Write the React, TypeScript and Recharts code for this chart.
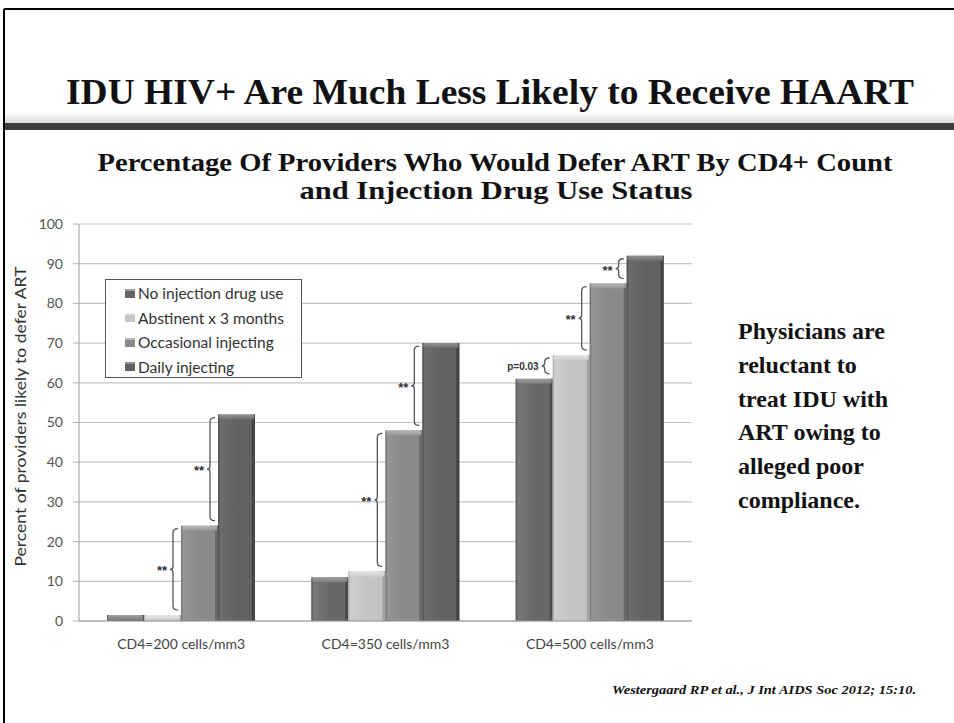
import React from 'react';
import { BarChart, Bar, XAxis, YAxis, CartesianGrid, Legend } from 'recharts';

const categories = ['CD4=200 cells/mm3', 'CD4=350 cells/mm3', 'CD4=500 cells/mm3'];
const seriesNames = ['No injection drug use', 'Abstinent x 3 months', 'Occasional injecting', 'Daily injecting'];
const noInjection = [1.5, 11, 61];
const abstinent = [1.5, 12.5, 67];
const occasional = [24, 48, 85];
const daily = [52, 70, 92];
const abstinentNotes = ['', '', 'p=0.03'];
const occasionalNotes = ['**', '**', '**'];
const dailyNotes = ['**', '**', '**'];
const yTicks = [0, 10, 20, 30, 40, 50, 60, 70, 80, 90, 100];
const edgeTicks = [0, 1, 2, 3];

const rows = categories.map((c, i) => ({
  category: c,
  v0: noInjection[i],
  v1: abstinent[i],
  v2: occasional[i],
  v3: daily[i],
  n0: '',
  n1: abstinentNotes[i],
  n2: occasionalNotes[i],
  n3: dailyNotes[i],
}));

const palette = [
  { base: '#686868', light: '#7a7a7a', dark: '#4a4a4a', top: '#a0a0a0' },
  { base: '#c4c4c4', light: '#cfcfcf', dark: '#a3a3a3', top: '#e4e4e4' },
  { base: '#8a8a8a', light: '#969696', dark: '#686868', top: '#b6b6b6' },
  { base: '#626262', light: '#6e6e6e', dark: '#434343', top: '#919191' },
];

const makeShape = (si: number) => (props: any) => {
  const { x, y, width, height, payload } = props;
  const c = palette[si];
  const val = payload['v' + si];
  const base = y + height;
  const ppu = val ? height / val : 0;
  const note = payload['n' + si];
  const topH = Math.min(5, height);
  let bracket = null;
  if (note) {
    const prev = payload['v' + (si - 1)];
    const yTop = base - val * ppu + 3;
    const yBot = base - prev * ppu - 5;
    const xr = x - 3;
    const xl = x - 8;
    const ym = (yTop + yBot) / 2;
    const d = `M${xr},${yTop} Q${xl},${yTop} ${xl},${yTop + 4} L${xl},${ym - 3} Q${xl},${ym} ${xl - 3},${ym} Q${xl},${ym} ${xl},${ym + 3} L${xl},${yBot - 4} Q${xl},${yBot} ${xr},${yBot}`;
    bracket = (
      <g>
        <path d={d} fill="none" stroke="#555" strokeWidth={1.3} />
        <text
          x={xl - 6}
          y={note === '**' ? ym + 6 : ym + 4}
          textAnchor="end"
          fontFamily="'Liberation Sans', Arial, sans-serif"
          fontWeight={700}
          fontSize={note === '**' ? 13 : 10}
          fill="#333"
        >
          {note}
        </text>
      </g>
    );
  }
  return (
    <g>
      <rect x={x} y={y} width={width} height={height} fill={`url(#grad${si})`} />
      <rect x={x + width - 3} y={y} width={3} height={height} fill={c.dark} />
      <rect x={x} y={y} width={1.5} height={height} fill={c.dark} opacity={0.6} />
      <rect x={x + 1} y={y} width={width - 2} height={topH} fill={`url(#top${si})`} rx={1.5} />
      {bracket}
    </g>
  );
};

const LegendBox = () => (
  <div
    style={{
      border: '1px solid #555',
      background: '#fff',
      width: 197,
      height: 99,
      boxSizing: 'border-box',
      padding: '1px 0 0 19px',
      fontFamily: "Lato, 'Open Sans', sans-serif",
      fontSize: 15.5,
      color: '#333',
    }}
  >
    {seriesNames.map((n, i) => (
      <div key={n} style={{ height: 24.5, display: 'flex', alignItems: 'center', whiteSpace: 'nowrap' }}>
        <span
          style={{
            display: 'inline-block',
            width: 10,
            height: 9,
            background: palette[i].base,
            borderTop: `2px solid ${palette[i].top}`,
            boxSizing: 'border-box',
            marginRight: 3,
          }}
        />
        {n}
      </div>
    ))}
  </div>
);

const YTitle = (props: any) => {
  const vb = props.viewBox || {};
  const cy = (vb.y || 224) + (vb.height || 397) / 2 - 6;
  return (
    <text
      x={0}
      y={0}
      transform={`translate(26, ${cy}) rotate(-90)`}
      textAnchor="middle"
      fontFamily="Lato, 'Open Sans', sans-serif"
      fontSize={16}
      textLength={300}
      lengthAdjust="spacingAndGlyphs"
      fill="#333"
    >
      Percent of providers likely to defer ART
    </text>
  );
};

const rightText = ['Physicians are', 'reluctant to', 'treat IDU with', 'ART owing to', 'alleged poor', 'compliance.'];

export default function App() {
  return (
    <div style={{ position: 'absolute', left: 0, top: 0, width: 954, height: 723, background: '#fff', overflow: 'hidden' }}>
      <BarChart
        width={954}
        height={723}
        data={rows}
        margin={{ top: 224, right: 262, bottom: 72, left: 0 }}
        barCategoryGap={28}
        barGap={0}
      >
        <defs>
          {palette.map((c, i) => (
            <linearGradient key={'g' + i} id={'grad' + i} x1="0" y1="0" x2="1" y2="0">
              <stop offset="0%" stopColor={c.light} />
              <stop offset="50%" stopColor={c.base} />
              <stop offset="100%" stopColor={c.base} />
            </linearGradient>
          ))}
          {palette.map((c, i) => (
            <linearGradient key={'t' + i} id={'top' + i} x1="0" y1="0" x2="0" y2="1">
              <stop offset="0%" stopColor={c.top} />
              <stop offset="100%" stopColor={c.light} />
            </linearGradient>
          ))}
        </defs>
        <CartesianGrid vertical={false} stroke="#c4c4c4" strokeWidth={1.2} />
        <XAxis
          xAxisId="edge"
          type="number"
          dataKey="v0"
          domain={[0, 3]}
          ticks={edgeTicks}
          height={0}
          tick={false}
          axisLine={false}
          tickLine={{ stroke: '#999' }}
          tickSize={5}
        />
        <XAxis
          dataKey="category"
          height={30}
          tickLine={false}
          axisLine={{ stroke: '#999' }}
          tick={{ fontFamily: "Lato, 'Open Sans', sans-serif", fontSize: 14, fill: '#444' }}
          tickMargin={12}
        />
        <YAxis
          width={79}
          domain={[0, 100]}
          ticks={yTicks}
          interval={0}
          axisLine={{ stroke: '#999' }}
          tickLine={{ stroke: '#b0b0b0' }}
          tickSize={6}
          tickMargin={10}
          tick={{ fontFamily: "Lato, 'Open Sans', sans-serif", fontSize: 14, fill: '#555' }}
          label={<YTitle />}
        />
        <Legend
          layout="vertical"
          align="center"
          verticalAlign="middle"
          content={<LegendBox />}
          wrapperStyle={{ position: 'absolute', left: 105, top: 279, width: 197, height: 99 }}
        />
        {seriesNames.map((n, i) => (
          <Bar
            key={n}
            dataKey={'v' + i}
            name={n}
            fill={palette[i].base}
            shape={makeShape(i)}
            isAnimationActive={false}
          />
        ))}
      </BarChart>
      <svg
        width={954}
        height={723}
        style={{ position: 'absolute', left: 0, top: 0, pointerEvents: 'none' }}
      >
        <defs>
          <linearGradient id="sepfade" x1="0" y1="0" x2="0" y2="1">
            <stop offset="0%" stopColor="#ffffff" />
            <stop offset="100%" stopColor="#dcdcdc" />
          </linearGradient>
        </defs>
        <line x1={4} y1={9} x2={954} y2={9} stroke="#000" strokeWidth={2} />
        <line x1={4} y1={9} x2={4} y2={723} stroke="#000" strokeWidth={2} />
        <rect x={5} y={112} width={949} height={11} fill="url(#sepfade)" />
        <rect x={5} y={123} width={949} height={7} fill="#3c3c3c" />
        <text
          x={490}
          y={104}
          textAnchor="middle"
          fontFamily="'Liberation Serif', 'Times New Roman', serif"
          fontWeight={700}
          fontSize={36}
          textLength={848}
          lengthAdjust="spacingAndGlyphs"
          fill="#111"
        >
          IDU HIV+ Are Much Less Likely to Receive HAART
        </text>
        <text
          x={495}
          y={171}
          textAnchor="middle"
          fontFamily="'Liberation Serif', 'Times New Roman', serif"
          fontWeight={700}
          fontSize={26}
          textLength={795}
          lengthAdjust="spacingAndGlyphs"
          fill="#111"
        >
          Percentage Of Providers Who Would Defer ART By CD4+ Count
        </text>
        <text
          x={496}
          y={199}
          textAnchor="middle"
          fontFamily="'Liberation Serif', 'Times New Roman', serif"
          fontWeight={700}
          fontSize={26}
          textLength={393}
          lengthAdjust="spacingAndGlyphs"
          fill="#111"
        >
          and Injection Drug Use Status
        </text>
        {rightText.map((t, i) => (
          <text
            key={t}
            x={738}
            y={339 + i * 33.8}
            fontFamily="'Liberation Serif', 'Times New Roman', serif"
            fontWeight={700}
            fontSize={24}
            fill="#111"
          >
            {t}
          </text>
        ))}
        <text
          x={612}
          y={694}
          fontFamily="'Liberation Serif', 'Times New Roman', serif"
          fontWeight={700}
          fontStyle="italic"
          fontSize={13}
          fill="#111"
          textLength={304}
          lengthAdjust="spacingAndGlyphs"
        >
          Westergaard RP et al., J Int AIDS Soc  2012; 15:10.
        </text>
      </svg>
    </div>
  );
}
